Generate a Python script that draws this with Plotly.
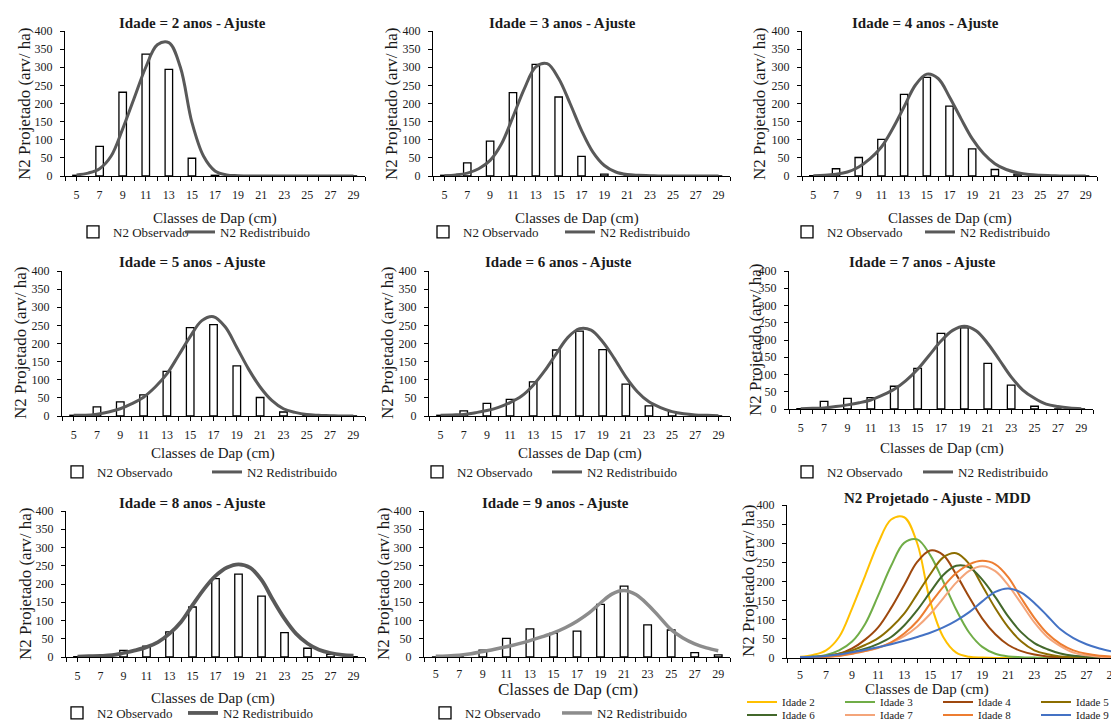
import plotly.graph_objects as go

OFF = 8                      # page body margin of the written html
W, H = 1119 - OFF, 726 - OFF

# ---------------- data ----------------
CLASSES = [5, 7, 9, 11, 13, 15, 17, 19, 21, 23, 25, 27, 29]
DAP = [5, 6, 7, 8, 9, 10, 11, 12, 13, 14, 15, 16, 17, 18, 19, 20, 21, 22, 23, 24, 25, 26, 27, 28, 29]
AGES = [2, 3, 4, 5, 6, 7, 8, 9]

obs_2 = [2, 82, 231, 336, 294, 49, 2, 0, 0, 0, 0, 0, 0]
obs_3 = [2, 36, 96, 230, 308, 218, 54, 5, 0, 0, 0, 0, 0]
obs_4 = [1, 20, 51, 101, 225, 272, 193, 75, 18, 5, 0, 0, 0]
obs_5 = [2, 25, 39, 58, 123, 244, 252, 138, 51, 11, 3, 0, 0]
obs_6 = [2, 14, 35, 46, 94, 182, 234, 183, 88, 28, 12, 2, 0]
obs_7 = [1, 22, 31, 33, 66, 118, 219, 235, 132, 69, 8, 0, 0]
obs_8 = [1, 0, 18, 30, 69, 137, 215, 227, 167, 67, 24, 7, 1]
obs_9 = [0, 1, 19, 51, 77, 65, 71, 144, 194, 88, 74, 12, 6]

fit_2 = [3, 8, 20, 55, 130, 215, 300, 362, 368, 300, 148, 55, 14, 3, 1, 0, 0, 0, 0, 0, 0, 0, 0, 0, 0]
fit_3 = [1, 3, 8, 20, 43, 89, 163, 241, 301, 310, 269, 200, 126, 66, 29, 11, 4, 2, 1, 0, 0, 0, 0, 0, 0]
fit_4 = [1, 2, 5, 11, 25, 48, 80, 131, 191, 251, 281, 269, 218, 159, 103, 62, 34, 18, 9, 4, 2, 1, 0, 0, 0]
fit_5 = [2, 2, 5, 11, 20, 34, 52, 80, 116, 167, 219, 263, 274, 246, 189, 130, 80, 43, 20, 10, 4, 2, 1, 0, 0]
fit_6 = [2, 3, 4, 9, 15, 24, 37, 55, 85, 125, 172, 217, 241, 237, 205, 159, 108, 67, 39, 23, 12, 6, 3, 2, 1]
fit_7 = [1, 2, 3, 7, 12, 18, 26, 40, 57, 82, 115, 156, 197, 228, 240, 227, 190, 142, 93, 55, 31, 14, 7, 3, 1]
fit_8 = [1, 2, 3, 5, 11, 18, 27, 41, 64, 96, 142, 186, 222, 245, 254, 245, 211, 156, 105, 64, 37, 20, 11, 6, 4]
fit_9 = [2, 3, 5, 9, 15, 21, 28, 36, 45, 55, 66, 80, 98, 120, 148, 173, 182, 171, 144, 110, 75, 52, 36, 25, 17]

Y_TICKS = [0, 50, 100, 150, 200, 250, 300, 350, 400]

OBS = [obs_2, obs_3, obs_4, obs_5, obs_6, obs_7, obs_8, obs_9]
FIT = [fit_2, fit_3, fit_4, fit_5, fit_6, fit_7, fit_8, fit_9]

# ---------------- styling / layout helpers ----------------
FONT = "Liberation Serif"
TXT = "#1a1a1a"
MDD_COLORS = ["#FFC000", "#70AD47", "#9E480E", "#8C6D00", "#43682B", "#F4A57A", "#ED7D31", "#4472C4"]


def fx(p):
    return (p - OFF) / W


def fy(p):
    return 1 - (p - OFF) / H


def lid(n):
    return "legend" if n == 1 else f"legend{n}"


# plot-area boxes in reference pixels: x0, x1, ytop, ybottom, xmax
BOX = [
    (65, 365, 31, 176, 30),
    (433, 730, 31, 176, 30),
    (802, 1097, 31, 176, 30),
    (62, 365, 271, 416, 30),
    (429, 730, 271, 416, 30),
    (789, 1093, 271, 409, 30),
    (66, 365, 511, 657, 30),
    (424, 730, 511, 657, 30),
    (787, 1119, 505, 658, 29.5),
]
TITLE_POS = [(192, 23), (562, 23), (925, 23), (192, 262), (558, 262), (922, 262),
             (192, 503), (555, 503), (937, 498)]
YT_POS = [(25, 104), (392, 104), (760, 104), (20, 343), (387, 343), (755, 340),
          (25, 584), (383, 584), (748, 581)]
XT_POS = [(215, 218), (577, 218), (950, 218), (213, 453), (580, 453), (942, 448),
          (213, 698), (568, 689), (927, 689)]
XT_SIZE = [15, 15, 15, 15, 15, 15, 15, 17, 15]
# legend: first item start (px), offset of second item, y centre
LEG = [(73, 107, 232), (423, 137, 232), (787, 133, 232), (57, 150, 472), (417, 130, 472),
       (787, 131, 472), (57, 126, 713), (425, 132, 713)]

line_color = ["#595959"] * 6 + ["#595959", "#8C8C8C"]
line_width = [3, 3, 3, 3, 3, 3, 3.8, 3.5]

fig = go.Figure()
layout = dict(width=W, height=H, margin=dict(l=0, r=0, t=0, b=0, autoexpand=False),
              paper_bgcolor="white", plot_bgcolor="white",
              font=dict(family=FONT, color=TXT), showlegend=True)
annotations = []

for i in range(9):
    x0, x1, yt, yb, xmax = BOX[i]
    k = "" if i == 0 else str(i + 1)
    layout["xaxis" + k] = dict(
        domain=[fx(x0), min(1.0, fx(x1))], range=[4, xmax], anchor="y" + k,
        tickmode="array", tickvals=CLASSES, ticktext=[str(c) for c in CLASSES],
        ticks="outside", ticklen=4, tickcolor="black", showline=True, linecolor="black",
        linewidth=1, showgrid=False, zeroline=False, ticklabelstandoff=4 if i < 7 else 2,
        tickfont=dict(family=FONT, size=12, color=TXT),
        minor=dict(tickmode="linear", tick0=4, dtick=1, ticks="outside", ticklen=4, tickcolor="black"),
    )
    layout["yaxis" + k] = dict(
        domain=[fy(yb), fy(yt)], range=[0, 400], anchor="x" + k,
        tickmode="array", tickvals=Y_TICKS, ticks="outside", ticklen=4, tickcolor="black",
        showline=True, linecolor="black", linewidth=1, showgrid=False, zeroline=False,
        ticklabelstandoff=5,
        tickfont=dict(family=FONT, size=12, color=TXT),
    )
    t = "N2 Projetado - Ajuste - MDD" if i == 8 else f"Idade = {AGES[i]} anos - Ajuste"
    annotations.append(dict(text=f"<b>{t}</b>", x=fx(TITLE_POS[i][0]), y=fy(TITLE_POS[i][1]),
                            xref="paper", yref="paper", showarrow=False,
                            font=dict(family=FONT, size=15, color=TXT), xanchor="center", yanchor="middle"))
    annotations.append(dict(text="N2 Projetado (arv/ ha)", x=fx(YT_POS[i][0]), y=fy(YT_POS[i][1]),
                            xref="paper", yref="paper", showarrow=False, textangle=-90,
                            font=dict(family=FONT, size=17, color=TXT), xanchor="center", yanchor="middle"))
    annotations.append(dict(text="Classes de Dap (cm)", x=fx(XT_POS[i][0]), y=fy(XT_POS[i][1]),
                            xref="paper", yref="paper", showarrow=False,
                            font=dict(family=FONT, size=XT_SIZE[i], color=TXT),
                            xanchor="center", yanchor="middle"))


def legend_box(x, y, size, entry=0):
    d = dict(x=fx(x), y=fy(y), xanchor="left", yanchor="middle", orientation="h",
             bgcolor="rgba(0,0,0,0)", font=dict(family=FONT, size=size, color=TXT),
             itemwidth=30, traceorder="normal")
    if entry:
        d.update(entrywidth=entry, entrywidthmode="pixels")
    return d


for i in range(8):
    k = "" if i == 0 else str(i + 1)
    lb, ll = lid(2 * i + 1), lid(2 * i + 2)
    fig.add_trace(go.Bar(x=CLASSES, y=OBS[i], width=0.65, name="N2 Observado",
                         marker=dict(color="white", line=dict(color="black", width=1.3)),
                         xaxis="x" + k, yaxis="y" + k, legend=lb))
    fig.add_trace(go.Scatter(x=DAP, y=FIT[i], mode="lines", name="N2 Redistribuido",
                             line=dict(color=line_color[i], width=line_width[i], shape="spline", smoothing=1),
                             xaxis="x" + k, yaxis="y" + k, legend=ll))
    sx, sp, cy = LEG[i]
    layout[lb] = legend_box(sx, cy, 13)
    layout[ll] = legend_box(sx + sp, cy, 13)

# MDD panel
for j in range(8):
    lg = lid(17) if j < 4 else lid(18)
    fig.add_trace(go.Scatter(x=DAP, y=FIT[j], mode="lines", name=f"Idade {AGES[j]}",
                             line=dict(color=MDD_COLORS[j], width=2, shape="spline", smoothing=1),
                             xaxis="x9", yaxis="y9", legend=lg))
layout[lid(17)] = legend_box(742, 702, 11, 53)
layout[lid(18)] = legend_box(742, 715, 11, 53)

layout["annotations"] = annotations
fig.update_layout(**layout)
fig.write_html("out.html")
